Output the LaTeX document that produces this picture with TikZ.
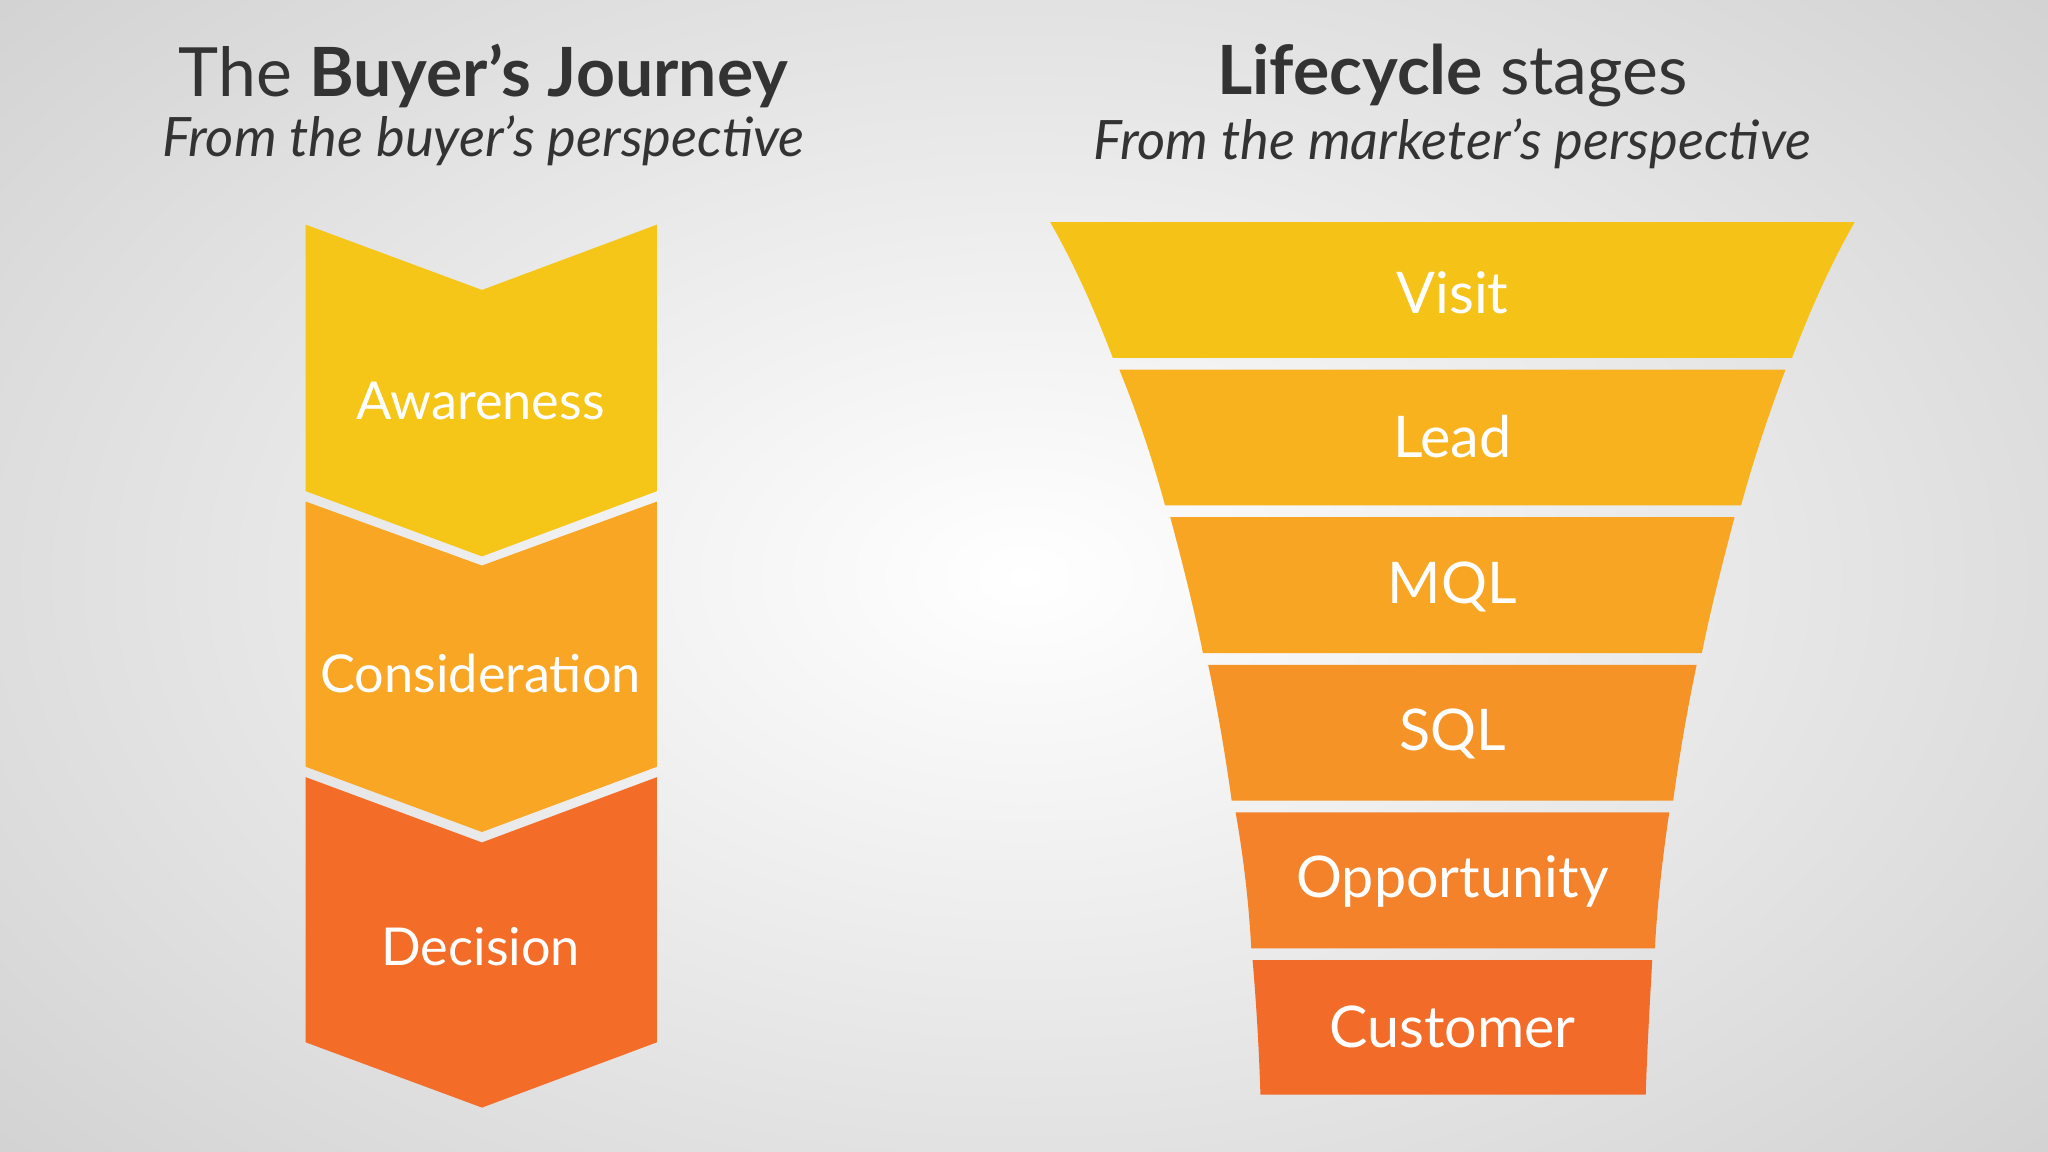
\documentclass[tikz,border=0pt]{standalone}
\usepackage{fontspec}
\setmainfont{Lato}
\begin{document}
\begin{tikzpicture}[x=0.5pt,y=-0.5pt,
  lab/.style={text=white,font=\fontsize{20}{22}\selectfont},
  flab/.style={text=white,font=\fontsize{22}{24}\selectfont}]
\definecolor{cA}{HTML}{F5C518}\definecolor{cB}{HTML}{F8A623}\definecolor{cC}{HTML}{F36C28}
\definecolor{f1}{HTML}{F5C218}\definecolor{f2}{HTML}{F7B21E}\definecolor{f3}{HTML}{F7A523}
\definecolor{f4}{HTML}{F59326}\definecolor{f5}{HTML}{F4822A}\definecolor{f6}{HTML}{F26B28}
\definecolor{tx}{HTML}{333333}
\useasboundingbox (0,0) rectangle (1568,882);
\shade[inner color=white,outer color=black!18] (-300,-250) rectangle (1868,1132);
% titles
\node[tx,font=\fontsize{26}{30}\selectfont] (t1) at (370,58) {The \textbf{Buyer’s Journey}};
\node[tx,font=\fontsize{20.8}{24}\selectfont\itshape] (s1) at (370,108) {From the buyer’s perspective};
\node[tx,font=\fontsize{26}{30}\selectfont] (t2) at (1112,58) {\textbf{Lifecycle} stages};
\node[tx,font=\fontsize{20.8}{24}\selectfont\itshape] (s2) at (1112,110) {From the marketer’s perspective};
% chevrons
\fill[cA] (234,172) -- (369,222) -- (503,172) -- (503,376) -- (369,426) -- (234,376) -- cycle;
\fill[cB] (234,384) -- (369,433) -- (503,384) -- (503,587) -- (369,637) -- (234,587) -- cycle;
\fill[cC] (234,595) -- (369,645) -- (503,595) -- (503,798) -- (369,848) -- (234,798) -- cycle;
\node[lab] (a) at (368,307) {Awareness};
\node[lab] (c) at (368,516) {Consideration};
\node[lab] (d) at (368,725) {Decision};
% funnel
\fill[f1] (804,170) -- (1420,170) .. controls (1400,205) and (1385,240) .. (1372,274) -- (852,274) .. controls (839,240) and (824,205) .. (804,170);
\fill[f2] (857,283) -- (1367,283) .. controls (1355,315) and (1343,350) .. (1333,387) -- (892,387) .. controls (882,350) and (870,315) .. (857,283);
\fill[f3] (896,396) -- (1328,396) .. controls (1319,430) and (1310,465) .. (1303,500) -- (921,500) .. controls (914,465) and (905,430) .. (896,396);
\fill[f4] (925,509) -- (1299,509) .. controls (1292,542) and (1286,577) .. (1281,613) -- (943,613) .. controls (938,577) and (932,542) .. (925,509);
\fill[f5] (946,622) -- (1278,622) .. controls (1273,656) and (1269,690) .. (1267,726) -- (958,726) .. controls (956,690) and (952,656) .. (946,622);
\fill[f6] (959,735) -- (1265,735) .. controls (1263,770) and (1261,805) .. (1260,838) -- (965,838) .. controls (964,805) and (962,770) .. (959,735);
\node[flab] (v) at (1112,224) {Visit};
\node[flab] (l) at (1112,334) {Lead};
\node[flab] (m) at (1112,449) {MQL};
\node[flab] (q) at (1112,562) {SQL};
\node[flab] (o) at (1112,675) {Opportunity};
\node[flab] (cu) at (1112,786) {Customer};
\end{tikzpicture}
\end{document}
